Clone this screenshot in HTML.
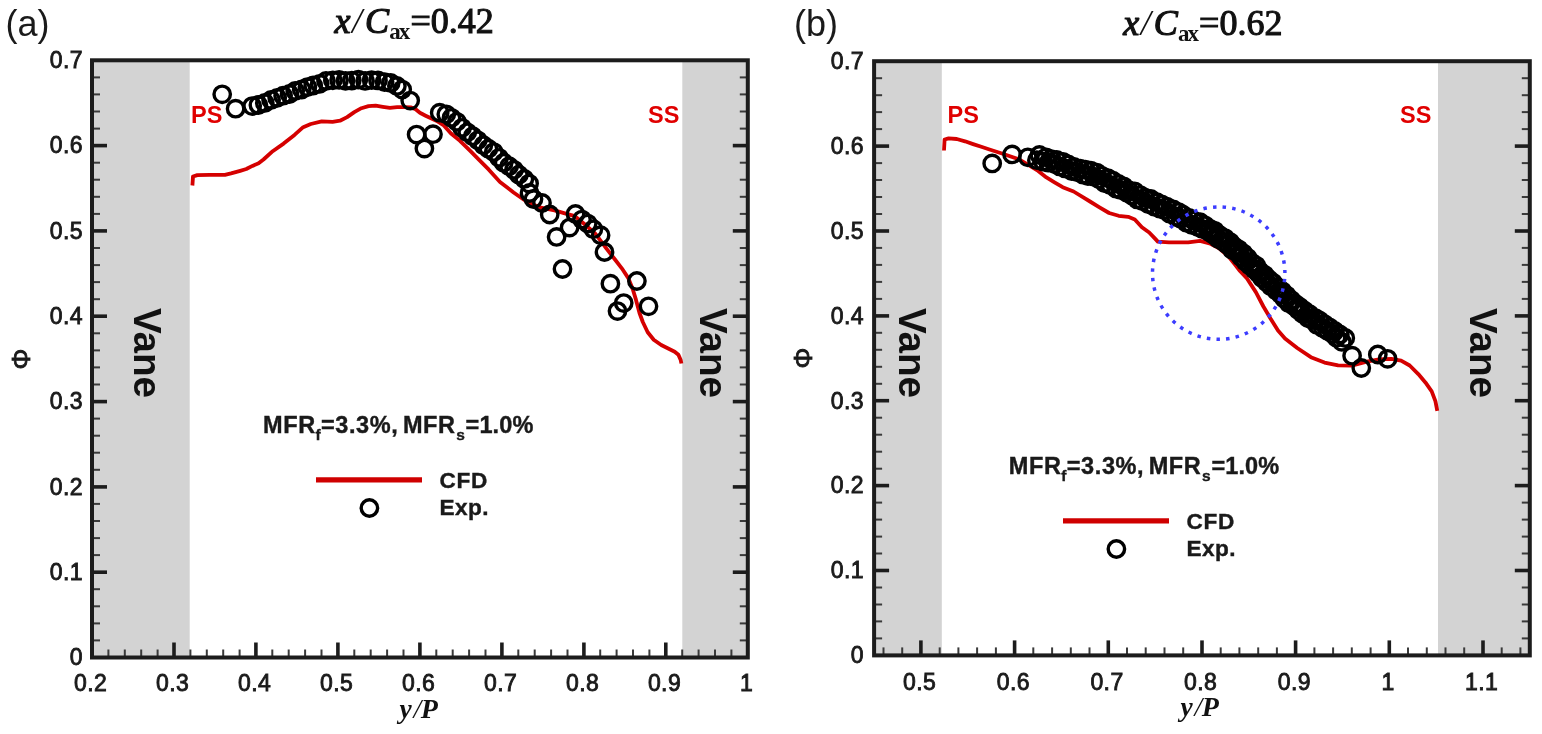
<!DOCTYPE html>
<html><head><meta charset="utf-8"><title>Figure</title>
<style>html,body{margin:0;padding:0;background:#fff;}svg{display:block;}</style>
</head><body>
<svg width="1542" height="734" viewBox="0 0 1542 734">
<style>
.tl{font-family:"Liberation Sans",Arial,sans-serif;font-size:23px;letter-spacing:0.4px;fill:#1a1a1a;stroke:#1a1a1a;stroke-width:0.85px}
.lab{font-family:"Liberation Sans",Arial,sans-serif;font-size:36px;fill:#1a1a1a}
.ttl{font-family:"Liberation Serif","Times New Roman",serif;font-weight:bold;fill:#111}
.ttlr{font-family:"Liberation Serif","Times New Roman",serif;font-weight:normal;fill:#111}
.vane{font-family:"Liberation Sans",Arial,sans-serif;font-weight:bold;font-size:38.6px;fill:#111}
.ps{font-family:"Liberation Sans",Arial,sans-serif;font-weight:bold;font-size:23.5px;fill:#e00000}
.leg{font-family:"Liberation Sans",Arial,sans-serif;font-weight:bold;font-size:23.5px;fill:#1a1a1a;stroke:#1a1a1a;stroke-width:0.4px}
</style>
<rect width="1542" height="734" fill="#fff"/>
<rect x="92.0" y="60.3" width="97.7" height="597.2" fill="#d3d3d3"/>
<rect x="682.3" y="60.3" width="65.5" height="597.2" fill="#d3d3d3"/>
<rect x="874.1" y="61.2" width="67.7" height="594.2" fill="#d3d3d3"/>
<rect x="1438.0" y="61.2" width="91.8" height="594.2" fill="#d3d3d3"/>
<line x1="92.0" y1="640.4" x2="100.0" y2="640.4" stroke="#3a3a3a" stroke-width="2.0"/>
<line x1="747.8" y1="640.4" x2="739.8" y2="640.4" stroke="#3a3a3a" stroke-width="2.0"/>
<line x1="92.0" y1="623.4" x2="100.0" y2="623.4" stroke="#3a3a3a" stroke-width="2.0"/>
<line x1="747.8" y1="623.4" x2="739.8" y2="623.4" stroke="#3a3a3a" stroke-width="2.0"/>
<line x1="92.0" y1="606.3" x2="100.0" y2="606.3" stroke="#3a3a3a" stroke-width="2.0"/>
<line x1="747.8" y1="606.3" x2="739.8" y2="606.3" stroke="#3a3a3a" stroke-width="2.0"/>
<line x1="92.0" y1="589.2" x2="100.0" y2="589.2" stroke="#3a3a3a" stroke-width="2.0"/>
<line x1="747.8" y1="589.2" x2="739.8" y2="589.2" stroke="#3a3a3a" stroke-width="2.0"/>
<line x1="92.0" y1="572.2" x2="107.0" y2="572.2" stroke="#1c1c1c" stroke-width="3.6"/>
<line x1="747.8" y1="572.2" x2="732.8" y2="572.2" stroke="#1c1c1c" stroke-width="3.6"/>
<line x1="92.0" y1="555.1" x2="100.0" y2="555.1" stroke="#3a3a3a" stroke-width="2.0"/>
<line x1="747.8" y1="555.1" x2="739.8" y2="555.1" stroke="#3a3a3a" stroke-width="2.0"/>
<line x1="92.0" y1="538.1" x2="100.0" y2="538.1" stroke="#3a3a3a" stroke-width="2.0"/>
<line x1="747.8" y1="538.1" x2="739.8" y2="538.1" stroke="#3a3a3a" stroke-width="2.0"/>
<line x1="92.0" y1="521.0" x2="100.0" y2="521.0" stroke="#3a3a3a" stroke-width="2.0"/>
<line x1="747.8" y1="521.0" x2="739.8" y2="521.0" stroke="#3a3a3a" stroke-width="2.0"/>
<line x1="92.0" y1="503.9" x2="100.0" y2="503.9" stroke="#3a3a3a" stroke-width="2.0"/>
<line x1="747.8" y1="503.9" x2="739.8" y2="503.9" stroke="#3a3a3a" stroke-width="2.0"/>
<line x1="92.0" y1="486.9" x2="107.0" y2="486.9" stroke="#1c1c1c" stroke-width="3.6"/>
<line x1="747.8" y1="486.9" x2="732.8" y2="486.9" stroke="#1c1c1c" stroke-width="3.6"/>
<line x1="92.0" y1="469.8" x2="100.0" y2="469.8" stroke="#3a3a3a" stroke-width="2.0"/>
<line x1="747.8" y1="469.8" x2="739.8" y2="469.8" stroke="#3a3a3a" stroke-width="2.0"/>
<line x1="92.0" y1="452.7" x2="100.0" y2="452.7" stroke="#3a3a3a" stroke-width="2.0"/>
<line x1="747.8" y1="452.7" x2="739.8" y2="452.7" stroke="#3a3a3a" stroke-width="2.0"/>
<line x1="92.0" y1="435.7" x2="100.0" y2="435.7" stroke="#3a3a3a" stroke-width="2.0"/>
<line x1="747.8" y1="435.7" x2="739.8" y2="435.7" stroke="#3a3a3a" stroke-width="2.0"/>
<line x1="92.0" y1="418.6" x2="100.0" y2="418.6" stroke="#3a3a3a" stroke-width="2.0"/>
<line x1="747.8" y1="418.6" x2="739.8" y2="418.6" stroke="#3a3a3a" stroke-width="2.0"/>
<line x1="92.0" y1="401.6" x2="107.0" y2="401.6" stroke="#1c1c1c" stroke-width="3.6"/>
<line x1="747.8" y1="401.6" x2="732.8" y2="401.6" stroke="#1c1c1c" stroke-width="3.6"/>
<line x1="92.0" y1="384.5" x2="100.0" y2="384.5" stroke="#3a3a3a" stroke-width="2.0"/>
<line x1="747.8" y1="384.5" x2="739.8" y2="384.5" stroke="#3a3a3a" stroke-width="2.0"/>
<line x1="92.0" y1="367.4" x2="100.0" y2="367.4" stroke="#3a3a3a" stroke-width="2.0"/>
<line x1="747.8" y1="367.4" x2="739.8" y2="367.4" stroke="#3a3a3a" stroke-width="2.0"/>
<line x1="92.0" y1="350.4" x2="100.0" y2="350.4" stroke="#3a3a3a" stroke-width="2.0"/>
<line x1="747.8" y1="350.4" x2="739.8" y2="350.4" stroke="#3a3a3a" stroke-width="2.0"/>
<line x1="92.0" y1="333.3" x2="100.0" y2="333.3" stroke="#3a3a3a" stroke-width="2.0"/>
<line x1="747.8" y1="333.3" x2="739.8" y2="333.3" stroke="#3a3a3a" stroke-width="2.0"/>
<line x1="92.0" y1="316.2" x2="107.0" y2="316.2" stroke="#1c1c1c" stroke-width="3.6"/>
<line x1="747.8" y1="316.2" x2="732.8" y2="316.2" stroke="#1c1c1c" stroke-width="3.6"/>
<line x1="92.0" y1="299.2" x2="100.0" y2="299.2" stroke="#3a3a3a" stroke-width="2.0"/>
<line x1="747.8" y1="299.2" x2="739.8" y2="299.2" stroke="#3a3a3a" stroke-width="2.0"/>
<line x1="92.0" y1="282.1" x2="100.0" y2="282.1" stroke="#3a3a3a" stroke-width="2.0"/>
<line x1="747.8" y1="282.1" x2="739.8" y2="282.1" stroke="#3a3a3a" stroke-width="2.0"/>
<line x1="92.0" y1="265.1" x2="100.0" y2="265.1" stroke="#3a3a3a" stroke-width="2.0"/>
<line x1="747.8" y1="265.1" x2="739.8" y2="265.1" stroke="#3a3a3a" stroke-width="2.0"/>
<line x1="92.0" y1="248.0" x2="100.0" y2="248.0" stroke="#3a3a3a" stroke-width="2.0"/>
<line x1="747.8" y1="248.0" x2="739.8" y2="248.0" stroke="#3a3a3a" stroke-width="2.0"/>
<line x1="92.0" y1="230.9" x2="107.0" y2="230.9" stroke="#1c1c1c" stroke-width="3.6"/>
<line x1="747.8" y1="230.9" x2="732.8" y2="230.9" stroke="#1c1c1c" stroke-width="3.6"/>
<line x1="92.0" y1="213.9" x2="100.0" y2="213.9" stroke="#3a3a3a" stroke-width="2.0"/>
<line x1="747.8" y1="213.9" x2="739.8" y2="213.9" stroke="#3a3a3a" stroke-width="2.0"/>
<line x1="92.0" y1="196.8" x2="100.0" y2="196.8" stroke="#3a3a3a" stroke-width="2.0"/>
<line x1="747.8" y1="196.8" x2="739.8" y2="196.8" stroke="#3a3a3a" stroke-width="2.0"/>
<line x1="92.0" y1="179.7" x2="100.0" y2="179.7" stroke="#3a3a3a" stroke-width="2.0"/>
<line x1="747.8" y1="179.7" x2="739.8" y2="179.7" stroke="#3a3a3a" stroke-width="2.0"/>
<line x1="92.0" y1="162.7" x2="100.0" y2="162.7" stroke="#3a3a3a" stroke-width="2.0"/>
<line x1="747.8" y1="162.7" x2="739.8" y2="162.7" stroke="#3a3a3a" stroke-width="2.0"/>
<line x1="92.0" y1="145.6" x2="107.0" y2="145.6" stroke="#1c1c1c" stroke-width="3.6"/>
<line x1="747.8" y1="145.6" x2="732.8" y2="145.6" stroke="#1c1c1c" stroke-width="3.6"/>
<line x1="92.0" y1="128.6" x2="100.0" y2="128.6" stroke="#3a3a3a" stroke-width="2.0"/>
<line x1="747.8" y1="128.6" x2="739.8" y2="128.6" stroke="#3a3a3a" stroke-width="2.0"/>
<line x1="92.0" y1="111.5" x2="100.0" y2="111.5" stroke="#3a3a3a" stroke-width="2.0"/>
<line x1="747.8" y1="111.5" x2="739.8" y2="111.5" stroke="#3a3a3a" stroke-width="2.0"/>
<line x1="92.0" y1="94.4" x2="100.0" y2="94.4" stroke="#3a3a3a" stroke-width="2.0"/>
<line x1="747.8" y1="94.4" x2="739.8" y2="94.4" stroke="#3a3a3a" stroke-width="2.0"/>
<line x1="92.0" y1="77.4" x2="100.0" y2="77.4" stroke="#3a3a3a" stroke-width="2.0"/>
<line x1="747.8" y1="77.4" x2="739.8" y2="77.4" stroke="#3a3a3a" stroke-width="2.0"/>
<line x1="108.4" y1="657.5" x2="108.4" y2="649.5" stroke="#3a3a3a" stroke-width="2.0"/>
<line x1="124.8" y1="657.5" x2="124.8" y2="649.5" stroke="#3a3a3a" stroke-width="2.0"/>
<line x1="141.2" y1="657.5" x2="141.2" y2="649.5" stroke="#3a3a3a" stroke-width="2.0"/>
<line x1="157.6" y1="657.5" x2="157.6" y2="649.5" stroke="#3a3a3a" stroke-width="2.0"/>
<line x1="174.0" y1="657.5" x2="174.0" y2="642.5" stroke="#1c1c1c" stroke-width="3.6"/>
<line x1="190.4" y1="657.5" x2="190.4" y2="649.5" stroke="#3a3a3a" stroke-width="2.0"/>
<line x1="206.8" y1="657.5" x2="206.8" y2="649.5" stroke="#3a3a3a" stroke-width="2.0"/>
<line x1="223.2" y1="657.5" x2="223.2" y2="649.5" stroke="#3a3a3a" stroke-width="2.0"/>
<line x1="239.6" y1="657.5" x2="239.6" y2="649.5" stroke="#3a3a3a" stroke-width="2.0"/>
<line x1="255.9" y1="657.5" x2="255.9" y2="642.5" stroke="#1c1c1c" stroke-width="3.6"/>
<line x1="272.3" y1="657.5" x2="272.3" y2="649.5" stroke="#3a3a3a" stroke-width="2.0"/>
<line x1="288.7" y1="657.5" x2="288.7" y2="649.5" stroke="#3a3a3a" stroke-width="2.0"/>
<line x1="305.1" y1="657.5" x2="305.1" y2="649.5" stroke="#3a3a3a" stroke-width="2.0"/>
<line x1="321.5" y1="657.5" x2="321.5" y2="649.5" stroke="#3a3a3a" stroke-width="2.0"/>
<line x1="337.9" y1="657.5" x2="337.9" y2="642.5" stroke="#1c1c1c" stroke-width="3.6"/>
<line x1="354.3" y1="657.5" x2="354.3" y2="649.5" stroke="#3a3a3a" stroke-width="2.0"/>
<line x1="370.7" y1="657.5" x2="370.7" y2="649.5" stroke="#3a3a3a" stroke-width="2.0"/>
<line x1="387.1" y1="657.5" x2="387.1" y2="649.5" stroke="#3a3a3a" stroke-width="2.0"/>
<line x1="403.5" y1="657.5" x2="403.5" y2="649.5" stroke="#3a3a3a" stroke-width="2.0"/>
<line x1="419.9" y1="657.5" x2="419.9" y2="642.5" stroke="#1c1c1c" stroke-width="3.6"/>
<line x1="436.3" y1="657.5" x2="436.3" y2="649.5" stroke="#3a3a3a" stroke-width="2.0"/>
<line x1="452.7" y1="657.5" x2="452.7" y2="649.5" stroke="#3a3a3a" stroke-width="2.0"/>
<line x1="469.1" y1="657.5" x2="469.1" y2="649.5" stroke="#3a3a3a" stroke-width="2.0"/>
<line x1="485.5" y1="657.5" x2="485.5" y2="649.5" stroke="#3a3a3a" stroke-width="2.0"/>
<line x1="501.9" y1="657.5" x2="501.9" y2="642.5" stroke="#1c1c1c" stroke-width="3.6"/>
<line x1="518.3" y1="657.5" x2="518.3" y2="649.5" stroke="#3a3a3a" stroke-width="2.0"/>
<line x1="534.7" y1="657.5" x2="534.7" y2="649.5" stroke="#3a3a3a" stroke-width="2.0"/>
<line x1="551.1" y1="657.5" x2="551.1" y2="649.5" stroke="#3a3a3a" stroke-width="2.0"/>
<line x1="567.5" y1="657.5" x2="567.5" y2="649.5" stroke="#3a3a3a" stroke-width="2.0"/>
<line x1="583.9" y1="657.5" x2="583.9" y2="642.5" stroke="#1c1c1c" stroke-width="3.6"/>
<line x1="600.2" y1="657.5" x2="600.2" y2="649.5" stroke="#3a3a3a" stroke-width="2.0"/>
<line x1="616.6" y1="657.5" x2="616.6" y2="649.5" stroke="#3a3a3a" stroke-width="2.0"/>
<line x1="633.0" y1="657.5" x2="633.0" y2="649.5" stroke="#3a3a3a" stroke-width="2.0"/>
<line x1="649.4" y1="657.5" x2="649.4" y2="649.5" stroke="#3a3a3a" stroke-width="2.0"/>
<line x1="665.8" y1="657.5" x2="665.8" y2="642.5" stroke="#1c1c1c" stroke-width="3.6"/>
<line x1="682.2" y1="657.5" x2="682.2" y2="649.5" stroke="#3a3a3a" stroke-width="2.0"/>
<line x1="698.6" y1="657.5" x2="698.6" y2="649.5" stroke="#3a3a3a" stroke-width="2.0"/>
<line x1="715.0" y1="657.5" x2="715.0" y2="649.5" stroke="#3a3a3a" stroke-width="2.0"/>
<line x1="731.4" y1="657.5" x2="731.4" y2="649.5" stroke="#3a3a3a" stroke-width="2.0"/>
<line x1="874.1" y1="638.4" x2="882.1" y2="638.4" stroke="#3a3a3a" stroke-width="2.0"/>
<line x1="1529.8" y1="638.4" x2="1521.8" y2="638.4" stroke="#3a3a3a" stroke-width="2.0"/>
<line x1="874.1" y1="621.4" x2="882.1" y2="621.4" stroke="#3a3a3a" stroke-width="2.0"/>
<line x1="1529.8" y1="621.4" x2="1521.8" y2="621.4" stroke="#3a3a3a" stroke-width="2.0"/>
<line x1="874.1" y1="604.5" x2="882.1" y2="604.5" stroke="#3a3a3a" stroke-width="2.0"/>
<line x1="1529.8" y1="604.5" x2="1521.8" y2="604.5" stroke="#3a3a3a" stroke-width="2.0"/>
<line x1="874.1" y1="587.5" x2="882.1" y2="587.5" stroke="#3a3a3a" stroke-width="2.0"/>
<line x1="1529.8" y1="587.5" x2="1521.8" y2="587.5" stroke="#3a3a3a" stroke-width="2.0"/>
<line x1="874.1" y1="570.5" x2="889.1" y2="570.5" stroke="#1c1c1c" stroke-width="3.6"/>
<line x1="1529.8" y1="570.5" x2="1514.8" y2="570.5" stroke="#1c1c1c" stroke-width="3.6"/>
<line x1="874.1" y1="553.5" x2="882.1" y2="553.5" stroke="#3a3a3a" stroke-width="2.0"/>
<line x1="1529.8" y1="553.5" x2="1521.8" y2="553.5" stroke="#3a3a3a" stroke-width="2.0"/>
<line x1="874.1" y1="536.6" x2="882.1" y2="536.6" stroke="#3a3a3a" stroke-width="2.0"/>
<line x1="1529.8" y1="536.6" x2="1521.8" y2="536.6" stroke="#3a3a3a" stroke-width="2.0"/>
<line x1="874.1" y1="519.6" x2="882.1" y2="519.6" stroke="#3a3a3a" stroke-width="2.0"/>
<line x1="1529.8" y1="519.6" x2="1521.8" y2="519.6" stroke="#3a3a3a" stroke-width="2.0"/>
<line x1="874.1" y1="502.6" x2="882.1" y2="502.6" stroke="#3a3a3a" stroke-width="2.0"/>
<line x1="1529.8" y1="502.6" x2="1521.8" y2="502.6" stroke="#3a3a3a" stroke-width="2.0"/>
<line x1="874.1" y1="485.6" x2="889.1" y2="485.6" stroke="#1c1c1c" stroke-width="3.6"/>
<line x1="1529.8" y1="485.6" x2="1514.8" y2="485.6" stroke="#1c1c1c" stroke-width="3.6"/>
<line x1="874.1" y1="468.7" x2="882.1" y2="468.7" stroke="#3a3a3a" stroke-width="2.0"/>
<line x1="1529.8" y1="468.7" x2="1521.8" y2="468.7" stroke="#3a3a3a" stroke-width="2.0"/>
<line x1="874.1" y1="451.7" x2="882.1" y2="451.7" stroke="#3a3a3a" stroke-width="2.0"/>
<line x1="1529.8" y1="451.7" x2="1521.8" y2="451.7" stroke="#3a3a3a" stroke-width="2.0"/>
<line x1="874.1" y1="434.7" x2="882.1" y2="434.7" stroke="#3a3a3a" stroke-width="2.0"/>
<line x1="1529.8" y1="434.7" x2="1521.8" y2="434.7" stroke="#3a3a3a" stroke-width="2.0"/>
<line x1="874.1" y1="417.7" x2="882.1" y2="417.7" stroke="#3a3a3a" stroke-width="2.0"/>
<line x1="1529.8" y1="417.7" x2="1521.8" y2="417.7" stroke="#3a3a3a" stroke-width="2.0"/>
<line x1="874.1" y1="400.7" x2="889.1" y2="400.7" stroke="#1c1c1c" stroke-width="3.6"/>
<line x1="1529.8" y1="400.7" x2="1514.8" y2="400.7" stroke="#1c1c1c" stroke-width="3.6"/>
<line x1="874.1" y1="383.8" x2="882.1" y2="383.8" stroke="#3a3a3a" stroke-width="2.0"/>
<line x1="1529.8" y1="383.8" x2="1521.8" y2="383.8" stroke="#3a3a3a" stroke-width="2.0"/>
<line x1="874.1" y1="366.8" x2="882.1" y2="366.8" stroke="#3a3a3a" stroke-width="2.0"/>
<line x1="1529.8" y1="366.8" x2="1521.8" y2="366.8" stroke="#3a3a3a" stroke-width="2.0"/>
<line x1="874.1" y1="349.8" x2="882.1" y2="349.8" stroke="#3a3a3a" stroke-width="2.0"/>
<line x1="1529.8" y1="349.8" x2="1521.8" y2="349.8" stroke="#3a3a3a" stroke-width="2.0"/>
<line x1="874.1" y1="332.8" x2="882.1" y2="332.8" stroke="#3a3a3a" stroke-width="2.0"/>
<line x1="1529.8" y1="332.8" x2="1521.8" y2="332.8" stroke="#3a3a3a" stroke-width="2.0"/>
<line x1="874.1" y1="315.9" x2="889.1" y2="315.9" stroke="#1c1c1c" stroke-width="3.6"/>
<line x1="1529.8" y1="315.9" x2="1514.8" y2="315.9" stroke="#1c1c1c" stroke-width="3.6"/>
<line x1="874.1" y1="298.9" x2="882.1" y2="298.9" stroke="#3a3a3a" stroke-width="2.0"/>
<line x1="1529.8" y1="298.9" x2="1521.8" y2="298.9" stroke="#3a3a3a" stroke-width="2.0"/>
<line x1="874.1" y1="281.9" x2="882.1" y2="281.9" stroke="#3a3a3a" stroke-width="2.0"/>
<line x1="1529.8" y1="281.9" x2="1521.8" y2="281.9" stroke="#3a3a3a" stroke-width="2.0"/>
<line x1="874.1" y1="264.9" x2="882.1" y2="264.9" stroke="#3a3a3a" stroke-width="2.0"/>
<line x1="1529.8" y1="264.9" x2="1521.8" y2="264.9" stroke="#3a3a3a" stroke-width="2.0"/>
<line x1="874.1" y1="247.9" x2="882.1" y2="247.9" stroke="#3a3a3a" stroke-width="2.0"/>
<line x1="1529.8" y1="247.9" x2="1521.8" y2="247.9" stroke="#3a3a3a" stroke-width="2.0"/>
<line x1="874.1" y1="231.0" x2="889.1" y2="231.0" stroke="#1c1c1c" stroke-width="3.6"/>
<line x1="1529.8" y1="231.0" x2="1514.8" y2="231.0" stroke="#1c1c1c" stroke-width="3.6"/>
<line x1="874.1" y1="214.0" x2="882.1" y2="214.0" stroke="#3a3a3a" stroke-width="2.0"/>
<line x1="1529.8" y1="214.0" x2="1521.8" y2="214.0" stroke="#3a3a3a" stroke-width="2.0"/>
<line x1="874.1" y1="197.0" x2="882.1" y2="197.0" stroke="#3a3a3a" stroke-width="2.0"/>
<line x1="1529.8" y1="197.0" x2="1521.8" y2="197.0" stroke="#3a3a3a" stroke-width="2.0"/>
<line x1="874.1" y1="180.0" x2="882.1" y2="180.0" stroke="#3a3a3a" stroke-width="2.0"/>
<line x1="1529.8" y1="180.0" x2="1521.8" y2="180.0" stroke="#3a3a3a" stroke-width="2.0"/>
<line x1="874.1" y1="163.1" x2="882.1" y2="163.1" stroke="#3a3a3a" stroke-width="2.0"/>
<line x1="1529.8" y1="163.1" x2="1521.8" y2="163.1" stroke="#3a3a3a" stroke-width="2.0"/>
<line x1="874.1" y1="146.1" x2="889.1" y2="146.1" stroke="#1c1c1c" stroke-width="3.6"/>
<line x1="1529.8" y1="146.1" x2="1514.8" y2="146.1" stroke="#1c1c1c" stroke-width="3.6"/>
<line x1="874.1" y1="129.1" x2="882.1" y2="129.1" stroke="#3a3a3a" stroke-width="2.0"/>
<line x1="1529.8" y1="129.1" x2="1521.8" y2="129.1" stroke="#3a3a3a" stroke-width="2.0"/>
<line x1="874.1" y1="112.1" x2="882.1" y2="112.1" stroke="#3a3a3a" stroke-width="2.0"/>
<line x1="1529.8" y1="112.1" x2="1521.8" y2="112.1" stroke="#3a3a3a" stroke-width="2.0"/>
<line x1="874.1" y1="95.2" x2="882.1" y2="95.2" stroke="#3a3a3a" stroke-width="2.0"/>
<line x1="1529.8" y1="95.2" x2="1521.8" y2="95.2" stroke="#3a3a3a" stroke-width="2.0"/>
<line x1="874.1" y1="78.2" x2="882.1" y2="78.2" stroke="#3a3a3a" stroke-width="2.0"/>
<line x1="1529.8" y1="78.2" x2="1521.8" y2="78.2" stroke="#3a3a3a" stroke-width="2.0"/>
<line x1="883.5" y1="655.4" x2="883.5" y2="647.4" stroke="#3a3a3a" stroke-width="2.0"/>
<line x1="902.2" y1="655.4" x2="902.2" y2="647.4" stroke="#3a3a3a" stroke-width="2.0"/>
<line x1="920.9" y1="655.4" x2="920.9" y2="640.4" stroke="#1c1c1c" stroke-width="3.6"/>
<line x1="939.7" y1="655.4" x2="939.7" y2="647.4" stroke="#3a3a3a" stroke-width="2.0"/>
<line x1="958.4" y1="655.4" x2="958.4" y2="647.4" stroke="#3a3a3a" stroke-width="2.0"/>
<line x1="977.1" y1="655.4" x2="977.1" y2="647.4" stroke="#3a3a3a" stroke-width="2.0"/>
<line x1="995.9" y1="655.4" x2="995.9" y2="647.4" stroke="#3a3a3a" stroke-width="2.0"/>
<line x1="1014.6" y1="655.4" x2="1014.6" y2="640.4" stroke="#1c1c1c" stroke-width="3.6"/>
<line x1="1033.3" y1="655.4" x2="1033.3" y2="647.4" stroke="#3a3a3a" stroke-width="2.0"/>
<line x1="1052.1" y1="655.4" x2="1052.1" y2="647.4" stroke="#3a3a3a" stroke-width="2.0"/>
<line x1="1070.8" y1="655.4" x2="1070.8" y2="647.4" stroke="#3a3a3a" stroke-width="2.0"/>
<line x1="1089.5" y1="655.4" x2="1089.5" y2="647.4" stroke="#3a3a3a" stroke-width="2.0"/>
<line x1="1108.3" y1="655.4" x2="1108.3" y2="640.4" stroke="#1c1c1c" stroke-width="3.6"/>
<line x1="1127.0" y1="655.4" x2="1127.0" y2="647.4" stroke="#3a3a3a" stroke-width="2.0"/>
<line x1="1145.7" y1="655.4" x2="1145.7" y2="647.4" stroke="#3a3a3a" stroke-width="2.0"/>
<line x1="1164.5" y1="655.4" x2="1164.5" y2="647.4" stroke="#3a3a3a" stroke-width="2.0"/>
<line x1="1183.2" y1="655.4" x2="1183.2" y2="647.4" stroke="#3a3a3a" stroke-width="2.0"/>
<line x1="1202.0" y1="655.4" x2="1202.0" y2="640.4" stroke="#1c1c1c" stroke-width="3.6"/>
<line x1="1220.7" y1="655.4" x2="1220.7" y2="647.4" stroke="#3a3a3a" stroke-width="2.0"/>
<line x1="1239.4" y1="655.4" x2="1239.4" y2="647.4" stroke="#3a3a3a" stroke-width="2.0"/>
<line x1="1258.2" y1="655.4" x2="1258.2" y2="647.4" stroke="#3a3a3a" stroke-width="2.0"/>
<line x1="1276.9" y1="655.4" x2="1276.9" y2="647.4" stroke="#3a3a3a" stroke-width="2.0"/>
<line x1="1295.6" y1="655.4" x2="1295.6" y2="640.4" stroke="#1c1c1c" stroke-width="3.6"/>
<line x1="1314.4" y1="655.4" x2="1314.4" y2="647.4" stroke="#3a3a3a" stroke-width="2.0"/>
<line x1="1333.1" y1="655.4" x2="1333.1" y2="647.4" stroke="#3a3a3a" stroke-width="2.0"/>
<line x1="1351.8" y1="655.4" x2="1351.8" y2="647.4" stroke="#3a3a3a" stroke-width="2.0"/>
<line x1="1370.6" y1="655.4" x2="1370.6" y2="647.4" stroke="#3a3a3a" stroke-width="2.0"/>
<line x1="1389.3" y1="655.4" x2="1389.3" y2="640.4" stroke="#1c1c1c" stroke-width="3.6"/>
<line x1="1408.0" y1="655.4" x2="1408.0" y2="647.4" stroke="#3a3a3a" stroke-width="2.0"/>
<line x1="1426.8" y1="655.4" x2="1426.8" y2="647.4" stroke="#3a3a3a" stroke-width="2.0"/>
<line x1="1445.5" y1="655.4" x2="1445.5" y2="647.4" stroke="#3a3a3a" stroke-width="2.0"/>
<line x1="1464.2" y1="655.4" x2="1464.2" y2="647.4" stroke="#3a3a3a" stroke-width="2.0"/>
<line x1="1483.0" y1="655.4" x2="1483.0" y2="640.4" stroke="#1c1c1c" stroke-width="3.6"/>
<line x1="1501.7" y1="655.4" x2="1501.7" y2="647.4" stroke="#3a3a3a" stroke-width="2.0"/>
<line x1="1520.4" y1="655.4" x2="1520.4" y2="647.4" stroke="#3a3a3a" stroke-width="2.0"/>
<text class="vane" transform="translate(134.0,353) rotate(90)" text-anchor="middle">Vane</text>
<text class="vane" transform="translate(700.0,353) rotate(90)" text-anchor="middle">Vane</text>
<text class="vane" transform="translate(899.3,353) rotate(90)" text-anchor="middle">Vane</text>
<text class="vane" transform="translate(1470.0,353) rotate(90)" text-anchor="middle">Vane</text>
<text class="ps" x="191" y="123">PS</text>
<text class="ps" x="648" y="123">SS</text>
<text class="ps" x="947.5" y="123">PS</text>
<text class="ps" x="1400" y="123">SS</text>
<polyline points="192.4,185.5 193.0,176.5 197.3,175.1 209.5,174.8 224.9,174.8 231.0,173.3 240.2,170.8 246.3,169.0 252.4,165.9 258.6,163.2 263.5,159.5 272.7,151.2 283.6,143.6 294.5,134.9 303.2,127.2 310.8,124.0 321.7,121.3 332.6,121.8 340.0,120.7 347.1,117.1 354.3,112.1 361.4,108.2 368.5,106.1 375.7,105.7 382.8,106.8 389.9,107.8 397.1,107.1 404.2,107.1 411.3,107.5 415.6,109.3 419.9,112.8 425.6,115.7 429.9,117.8 436.3,120.7 443.4,125.0 451.0,133.5 460.0,140.8 469.5,150.2 479.1,159.8 488.6,169.4 500.0,182.0 513.6,192.5 527.2,202.0 540.9,207.7 554.5,210.4 564.0,213.1 574.9,216.2 584.4,224.0 595.3,233.6 606.5,248.7 614.2,258.5 621.8,268.3 628.3,278.1 632.7,289.0 636.0,299.9 639.5,313.0 642.8,322.0 647.7,332.2 653.7,339.7 661.2,345.0 668.7,348.7 674.7,351.7 678.4,354.7 680.7,360.0 681.4,363.5" fill="none" stroke="#d50000" stroke-width="3.8" stroke-linejoin="round" stroke-linecap="butt"/>
<polyline points="944.0,150.5 944.6,139.5 948.6,138.4 956.8,139.0 965.0,141.3 973.1,144.1 981.3,146.8 989.5,149.5 1002.7,153.7 1019.1,159.4 1030.0,165.8 1038.2,170.9 1046.4,177.4 1054.5,182.3 1062.7,187.2 1073.6,191.5 1084.5,198.2 1090.0,201.5 1099.5,207.3 1109.1,213.0 1118.6,215.8 1128.2,216.8 1134.8,219.5 1141.9,227.2 1149.2,232.5 1154.8,238.4 1157.8,241.6 1169.0,242.3 1188.2,242.3 1200.0,240.8 1209.5,243.4 1219.1,248.2 1228.6,256.5 1235.0,264.5 1240.0,271.0 1247.0,278.5 1256.0,292.4 1263.4,306.5 1270.5,318.5 1278.0,330.5 1285.0,338.5 1297.2,348.0 1310.9,357.2 1324.5,362.6 1338.1,365.4 1351.7,365.6 1366.8,361.6 1379.0,359.4 1391.3,358.8 1401.1,360.6 1409.7,365.5 1418.3,374.1 1425.6,382.7 1431.7,391.3 1435.4,401.1 1437.3,410.9" fill="none" stroke="#d50000" stroke-width="3.8" stroke-linejoin="round" stroke-linecap="butt"/>
<g fill="none" stroke="#000" stroke-width="3.4"><circle cx="222.2" cy="94.3" r="8.2"/><circle cx="235.6" cy="108.7" r="8.2"/><circle cx="252.2" cy="106.1" r="8.2"/><circle cx="258.4" cy="105.0" r="8.2"/><circle cx="264.8" cy="102.9" r="8.2"/><circle cx="271.1" cy="99.9" r="8.2"/><circle cx="277.2" cy="97.8" r="8.2"/><circle cx="283.1" cy="95.7" r="8.2"/><circle cx="289.5" cy="94.0" r="8.2"/><circle cx="295.2" cy="90.9" r="8.2"/><circle cx="301.7" cy="89.5" r="8.2"/><circle cx="307.4" cy="87.1" r="8.2"/><circle cx="313.2" cy="85.5" r="8.2"/><circle cx="319.7" cy="83.8" r="8.2"/><circle cx="326.0" cy="80.9" r="8.2"/><circle cx="332.8" cy="80.3" r="8.2"/><circle cx="339.1" cy="79.9" r="8.2"/><circle cx="345.5" cy="80.8" r="8.2"/><circle cx="351.8" cy="80.6" r="8.2"/><circle cx="358.4" cy="79.6" r="8.2"/><circle cx="365.1" cy="80.9" r="8.2"/><circle cx="371.6" cy="80.1" r="8.2"/><circle cx="378.0" cy="80.4" r="8.2"/><circle cx="384.6" cy="82.1" r="8.2"/><circle cx="390.7" cy="82.9" r="8.2"/><circle cx="396.9" cy="85.9" r="8.2"/><circle cx="402.2" cy="89.6" r="8.2"/><circle cx="410.2" cy="100.6" r="8.2"/><circle cx="416.6" cy="134.6" r="8.2"/><circle cx="433.0" cy="134.2" r="8.2"/><circle cx="424.4" cy="148.6" r="8.2"/><circle cx="439.7" cy="112.7" r="8.2"/><circle cx="446.3" cy="114.3" r="8.2"/><circle cx="451.5" cy="117.8" r="8.2"/><circle cx="456.9" cy="121.8" r="8.2"/><circle cx="462.1" cy="127.8" r="8.2"/><circle cx="467.3" cy="132.3" r="8.2"/><circle cx="472.7" cy="136.2" r="8.2"/><circle cx="477.8" cy="140.3" r="8.2"/><circle cx="483.4" cy="145.2" r="8.2"/><circle cx="488.4" cy="148.7" r="8.2"/><circle cx="493.7" cy="152.1" r="8.2"/><circle cx="499.1" cy="157.8" r="8.2"/><circle cx="503.7" cy="162.7" r="8.2"/><circle cx="509.1" cy="166.2" r="8.2"/><circle cx="514.0" cy="169.8" r="8.2"/><circle cx="518.9" cy="174.7" r="8.2"/><circle cx="524.4" cy="178.9" r="8.2"/><circle cx="529.1" cy="183.6" r="8.2"/><circle cx="529.5" cy="193.0" r="8.2"/><circle cx="533.5" cy="199.0" r="8.2"/><circle cx="542.0" cy="203.0" r="8.2"/><circle cx="549.7" cy="214.5" r="8.2"/><circle cx="556.6" cy="236.9" r="8.2"/><circle cx="569.6" cy="227.6" r="8.2"/><circle cx="562.5" cy="269.0" r="8.2"/><circle cx="575.5" cy="214.0" r="8.2"/><circle cx="582.0" cy="219.6" r="8.2"/><circle cx="587.7" cy="223.6" r="8.2"/><circle cx="593.4" cy="229.2" r="8.2"/><circle cx="600.6" cy="235.2" r="8.2"/><circle cx="604.5" cy="252.0" r="8.2"/><circle cx="610.4" cy="283.7" r="8.2"/><circle cx="636.9" cy="281.0" r="8.2"/><circle cx="623.7" cy="303.1" r="8.2"/><circle cx="617.5" cy="311.1" r="8.2"/><circle cx="648.5" cy="306.3" r="8.2"/></g>
<g fill="none" stroke="#000" stroke-width="3.4"><circle cx="992.2" cy="163.4" r="8.2"/><circle cx="1012.1" cy="154.4" r="8.2"/><circle cx="1027.8" cy="157.3" r="8.2"/><circle cx="1036.9" cy="160.2" r="8.2"/><circle cx="1039.4" cy="155.0" r="8.2"/><circle cx="1042.9" cy="161.6" r="8.2"/><circle cx="1046.1" cy="157.3" r="8.2"/><circle cx="1048.3" cy="162.7" r="8.2"/><circle cx="1051.2" cy="159.1" r="8.2"/><circle cx="1054.8" cy="164.1" r="8.2"/><circle cx="1056.7" cy="159.9" r="8.2"/><circle cx="1059.7" cy="166.4" r="8.2"/><circle cx="1063.0" cy="161.8" r="8.2"/><circle cx="1065.0" cy="168.4" r="8.2"/><circle cx="1068.2" cy="164.5" r="8.2"/><circle cx="1071.7" cy="171.1" r="8.2"/><circle cx="1074.0" cy="166.9" r="8.2"/><circle cx="1077.0" cy="172.0" r="8.2"/><circle cx="1080.2" cy="168.7" r="8.2"/><circle cx="1083.1" cy="174.7" r="8.2"/><circle cx="1085.4" cy="169.6" r="8.2"/><circle cx="1088.0" cy="176.0" r="8.2"/><circle cx="1090.8" cy="170.6" r="8.2"/><circle cx="1093.9" cy="176.7" r="8.2"/><circle cx="1096.8" cy="172.6" r="8.2"/><circle cx="1099.1" cy="179.3" r="8.2"/><circle cx="1101.9" cy="175.8" r="8.2"/><circle cx="1104.5" cy="183.1" r="8.2"/><circle cx="1107.8" cy="178.1" r="8.2"/><circle cx="1110.1" cy="185.0" r="8.2"/><circle cx="1112.9" cy="180.7" r="8.2"/><circle cx="1116.2" cy="188.7" r="8.2"/><circle cx="1118.4" cy="184.0" r="8.2"/><circle cx="1120.6" cy="189.9" r="8.2"/><circle cx="1123.6" cy="186.3" r="8.2"/><circle cx="1126.9" cy="192.7" r="8.2"/><circle cx="1128.6" cy="190.1" r="8.2"/><circle cx="1131.9" cy="195.4" r="8.2"/><circle cx="1134.6" cy="191.3" r="8.2"/><circle cx="1137.2" cy="199.4" r="8.2"/><circle cx="1140.3" cy="195.1" r="8.2"/><circle cx="1142.3" cy="201.1" r="8.2"/><circle cx="1145.0" cy="197.7" r="8.2"/><circle cx="1148.2" cy="204.0" r="8.2"/><circle cx="1150.8" cy="199.0" r="8.2"/><circle cx="1154.1" cy="206.5" r="8.2"/><circle cx="1156.9" cy="202.2" r="8.2"/><circle cx="1159.6" cy="208.6" r="8.2"/><circle cx="1161.6" cy="204.3" r="8.2"/><circle cx="1164.4" cy="210.1" r="8.2"/><circle cx="1166.7" cy="206.6" r="8.2"/><circle cx="1169.7" cy="213.7" r="8.2"/><circle cx="1173.3" cy="209.4" r="8.2"/><circle cx="1175.9" cy="216.9" r="8.2"/><circle cx="1178.6" cy="212.1" r="8.2"/><circle cx="1180.3" cy="218.5" r="8.2"/><circle cx="1182.9" cy="214.7" r="8.2"/><circle cx="1186.1" cy="222.5" r="8.2"/><circle cx="1189.0" cy="218.0" r="8.2"/><circle cx="1191.6" cy="224.8" r="8.2"/><circle cx="1193.7" cy="220.4" r="8.2"/><circle cx="1197.5" cy="226.8" r="8.2"/><circle cx="1200.1" cy="222.2" r="8.2"/><circle cx="1202.2" cy="228.9" r="8.2"/><circle cx="1205.0" cy="225.3" r="8.2"/><circle cx="1208.3" cy="231.5" r="8.2"/><circle cx="1210.1" cy="228.8" r="8.2"/><circle cx="1213.0" cy="234.4" r="8.2"/><circle cx="1214.8" cy="230.8" r="8.2"/><circle cx="1218.2" cy="238.7" r="8.2"/><circle cx="1219.8" cy="235.2" r="8.2"/><circle cx="1223.4" cy="241.7" r="8.2"/><circle cx="1225.0" cy="238.1" r="8.2"/><circle cx="1227.0" cy="244.4" r="8.2"/><circle cx="1230.3" cy="242.2" r="8.2"/><circle cx="1232.1" cy="249.7" r="8.2"/><circle cx="1234.3" cy="246.4" r="8.2"/><circle cx="1237.1" cy="252.4" r="8.2"/><circle cx="1238.7" cy="249.3" r="8.2"/><circle cx="1241.0" cy="256.9" r="8.2"/><circle cx="1243.3" cy="253.3" r="8.2"/><circle cx="1245.2" cy="261.5" r="8.2"/><circle cx="1247.6" cy="257.7" r="8.2"/><circle cx="1250.0" cy="265.8" r="8.2"/><circle cx="1251.9" cy="262.7" r="8.2"/><circle cx="1254.1" cy="269.5" r="8.2"/><circle cx="1256.2" cy="265.6" r="8.2"/><circle cx="1258.2" cy="273.2" r="8.2"/><circle cx="1259.7" cy="271.1" r="8.2"/><circle cx="1262.0" cy="278.0" r="8.2"/><circle cx="1264.8" cy="275.0" r="8.2"/><circle cx="1266.6" cy="282.2" r="8.2"/><circle cx="1269.0" cy="279.4" r="8.2"/><circle cx="1270.7" cy="286.3" r="8.2"/><circle cx="1273.1" cy="282.7" r="8.2"/><circle cx="1275.9" cy="290.3" r="8.2"/><circle cx="1277.9" cy="287.5" r="8.2"/><circle cx="1280.5" cy="294.2" r="8.2"/><circle cx="1282.4" cy="291.2" r="8.2"/><circle cx="1284.4" cy="298.7" r="8.2"/><circle cx="1286.6" cy="295.3" r="8.2"/><circle cx="1288.8" cy="303.2" r="8.2"/><circle cx="1291.3" cy="299.9" r="8.2"/><circle cx="1293.8" cy="306.1" r="8.2"/><circle cx="1295.6" cy="304.0" r="8.2"/><circle cx="1298.2" cy="309.9" r="8.2"/><circle cx="1299.8" cy="306.9" r="8.2"/><circle cx="1302.2" cy="313.5" r="8.2"/><circle cx="1304.6" cy="310.7" r="8.2"/><circle cx="1307.9" cy="318.0" r="8.2"/><circle cx="1309.6" cy="314.2" r="8.2"/><circle cx="1312.7" cy="320.2" r="8.2"/><circle cx="1315.4" cy="318.1" r="8.2"/><circle cx="1317.1" cy="324.9" r="8.2"/><circle cx="1319.8" cy="320.7" r="8.2"/><circle cx="1322.9" cy="328.2" r="8.2"/><circle cx="1324.4" cy="324.1" r="8.2"/><circle cx="1327.3" cy="330.8" r="8.2"/><circle cx="1329.4" cy="327.3" r="8.2"/><circle cx="1332.4" cy="333.8" r="8.2"/><circle cx="1334.7" cy="331.0" r="8.2"/><circle cx="1336.5" cy="337.7" r="8.2"/><circle cx="1339.8" cy="334.4" r="8.2"/><circle cx="1341.8" cy="341.8" r="8.2"/><circle cx="1345.3" cy="338.0" r="8.2"/><circle cx="1352.1" cy="355.7" r="8.2"/><circle cx="1361.3" cy="368.0" r="8.2"/><circle cx="1377.8" cy="354.5" r="8.2"/><circle cx="1387.6" cy="358.8" r="8.2"/></g>
<circle cx="1218.7" cy="273.1" r="66.2" fill="none" stroke="#3c3cff" stroke-width="3.5" stroke-dasharray="3.5 6.173" stroke-dashoffset="3.83"/>
<rect x="92.0" y="60.3" width="655.8" height="597.2" fill="none" stroke="#1c1c1c" stroke-width="4"/>
<rect x="874.1" y="61.2" width="655.7" height="594.2" fill="none" stroke="#1c1c1c" stroke-width="4"/>
<text x="83.0" y="665.3" text-anchor="end" class="tl">0</text>
<text x="83.0" y="580.0" text-anchor="end" class="tl">0.1</text>
<text x="83.0" y="494.7" text-anchor="end" class="tl">0.2</text>
<text x="83.0" y="409.4" text-anchor="end" class="tl">0.3</text>
<text x="83.0" y="324.0" text-anchor="end" class="tl">0.4</text>
<text x="83.0" y="238.7" text-anchor="end" class="tl">0.5</text>
<text x="83.0" y="153.4" text-anchor="end" class="tl">0.6</text>
<text x="83.0" y="68.1" text-anchor="end" class="tl">0.7</text>
<text x="90.7" y="691.3" text-anchor="middle" class="tl">0.2</text>
<text x="172.7" y="691.3" text-anchor="middle" class="tl">0.3</text>
<text x="254.6" y="691.3" text-anchor="middle" class="tl">0.4</text>
<text x="336.6" y="691.3" text-anchor="middle" class="tl">0.5</text>
<text x="418.6" y="691.3" text-anchor="middle" class="tl">0.6</text>
<text x="500.6" y="691.3" text-anchor="middle" class="tl">0.7</text>
<text x="582.6" y="691.3" text-anchor="middle" class="tl">0.8</text>
<text x="664.5" y="691.3" text-anchor="middle" class="tl">0.9</text>
<text x="746.5" y="691.3" text-anchor="middle" class="tl">1</text>
<text x="864.0" y="663.2" text-anchor="end" class="tl">0</text>
<text x="864.0" y="578.3" text-anchor="end" class="tl">0.1</text>
<text x="864.0" y="493.4" text-anchor="end" class="tl">0.2</text>
<text x="864.0" y="408.5" text-anchor="end" class="tl">0.3</text>
<text x="864.0" y="323.7" text-anchor="end" class="tl">0.4</text>
<text x="864.0" y="238.8" text-anchor="end" class="tl">0.5</text>
<text x="864.0" y="153.9" text-anchor="end" class="tl">0.6</text>
<text x="864.0" y="69.0" text-anchor="end" class="tl">0.7</text>
<text x="919.6" y="689.5" text-anchor="middle" class="tl">0.5</text>
<text x="1013.3" y="689.5" text-anchor="middle" class="tl">0.6</text>
<text x="1107.0" y="689.5" text-anchor="middle" class="tl">0.7</text>
<text x="1200.7" y="689.5" text-anchor="middle" class="tl">0.8</text>
<text x="1294.3" y="689.5" text-anchor="middle" class="tl">0.9</text>
<text x="1388.0" y="689.5" text-anchor="middle" class="tl">1</text>
<text x="1481.7" y="689.5" text-anchor="middle" class="tl">1.1</text>
<text class="leg" x="263.0" y="433.0" letter-spacing="0.6">MFR</text>
<text class="leg" x="315.5" y="439.6" style="font-size:15.5px">f</text>
<text class="leg" x="321.0" y="433.0" letter-spacing="0.6">=3.3%,</text>
<text class="leg" x="402.9" y="433.0" letter-spacing="0.6">MFR</text>
<text class="leg" x="456.3" y="440.4" style="font-size:15.5px">s</text>
<text class="leg" x="465.6" y="433.0" letter-spacing="0.1">=1.0%</text>
<line x1="316" y1="479.8" x2="422" y2="479.8" stroke="#cf0000" stroke-width="5.2"/>
<circle cx="369.4" cy="508" r="8.2" fill="none" stroke="#000" stroke-width="3.4"/>
<text class="leg" x="439.5" y="487.8" style="font-size:22.6px" letter-spacing="0.7">CFD</text>
<text class="leg" x="439.5" y="514.8" style="font-size:22.6px" letter-spacing="0.4">Exp.</text>
<text class="leg" x="1008.8" y="474.0" letter-spacing="0.6">MFR</text>
<text class="leg" x="1061.3" y="480.6" style="font-size:15.5px">f</text>
<text class="leg" x="1066.8" y="474.0" letter-spacing="0.6">=3.3%,</text>
<text class="leg" x="1148.7" y="474.0" letter-spacing="0.6">MFR</text>
<text class="leg" x="1202.1" y="481.4" style="font-size:15.5px">s</text>
<text class="leg" x="1211.4" y="474.0" letter-spacing="0.1">=1.0%</text>
<line x1="1063" y1="520.8" x2="1169" y2="520.8" stroke="#cf0000" stroke-width="5.2"/>
<circle cx="1116.4" cy="549" r="8.2" fill="none" stroke="#000" stroke-width="3.4"/>
<text class="leg" x="1186.5" y="528.8" style="font-size:22.6px" letter-spacing="0.7">CFD</text>
<text class="leg" x="1186.5" y="555.8" style="font-size:22.6px" letter-spacing="0.4">Exp.</text>
<text x="5.5" y="36" class="lab">(a)</text>
<text x="794" y="36" class="lab">(b)</text>
<text class="ttlr" x="334.6" y="32.6" font-size="36" font-style="italic" style="stroke:#111;stroke-width:1.2px">x</text>
<text class="ttlr" x="352.0" y="32.6" font-size="36" font-style="italic">/</text>
<text class="ttlr" x="365.1" y="32.6" font-size="36" font-style="italic" style="stroke:#111;stroke-width:1.2px">C</text>
<text class="ttl" x="389.2" y="39.2" font-size="23" letter-spacing="-2">ax</text>
<text class="ttlr" x="410.4" y="32.6" font-size="36" style="stroke:#111;stroke-width:1.1px">=0.42</text>
<text class="ttlr" x="1123.3" y="34.6" font-size="36" font-style="italic" style="stroke:#111;stroke-width:1.2px">x</text>
<text class="ttlr" x="1140.7" y="34.6" font-size="36" font-style="italic">/</text>
<text class="ttlr" x="1153.8" y="34.6" font-size="36" font-style="italic" style="stroke:#111;stroke-width:1.2px">C</text>
<text class="ttl" x="1177.9" y="41.2" font-size="23" letter-spacing="-2">ax</text>
<text class="ttlr" x="1199.1" y="34.6" font-size="36" style="stroke:#111;stroke-width:1.1px">=0.62</text>
<text class="ttl" x="399.5" y="717.8" font-size="27.5" font-style="italic">y</text>
<text class="ttlr" x="413.5" y="717.8" font-size="27.5" font-style="italic">/</text>
<text class="ttl" x="420.8" y="717.8" font-size="28" font-style="italic">P</text>
<text class="ttl" x="1180.5" y="716.0" font-size="27.5" font-style="italic">y</text>
<text class="ttlr" x="1194.5" y="716.0" font-size="27.5" font-style="italic">/</text>
<text class="ttl" x="1201.8" y="716.0" font-size="28" font-style="italic">P</text>
<text class="tl" transform="translate(30,359) rotate(-90)" text-anchor="middle" style="font-size:26px">Φ</text>
<text class="tl" transform="translate(812,358) rotate(-90)" text-anchor="middle" style="font-size:26px">Φ</text>
</svg>
</body></html>
